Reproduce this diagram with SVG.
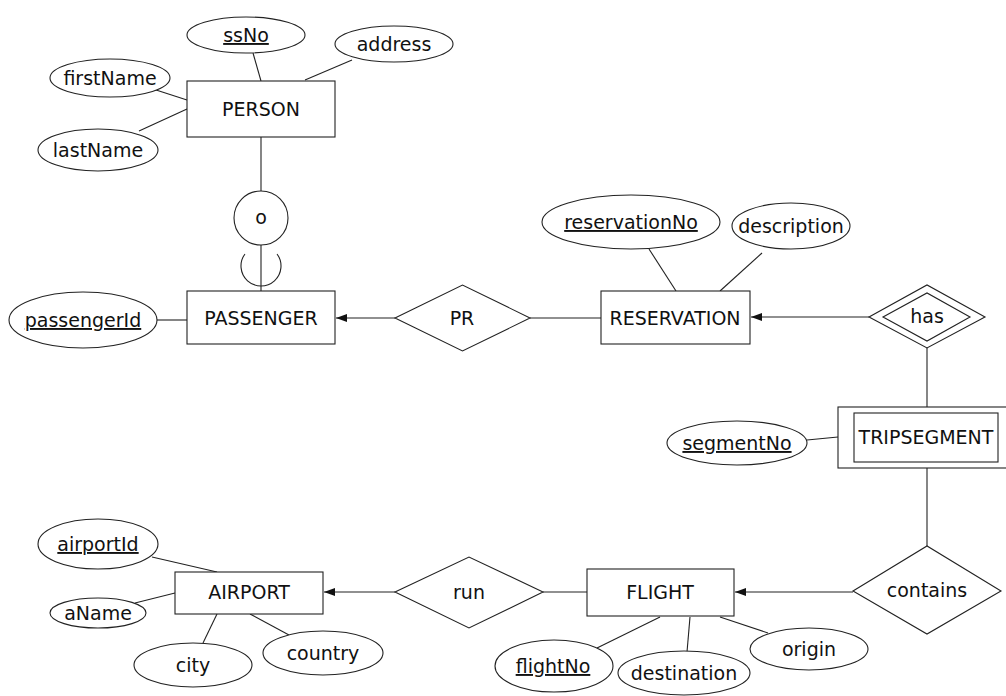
<svg xmlns="http://www.w3.org/2000/svg" width="1006" height="696" viewBox="0 0 1006 696">
<style>
  .shape { fill: #fff; stroke: #222; stroke-width: 1.1; }
  .ln { stroke: #222; stroke-width: 1.1; fill: none; }
  .t { font-family: "DejaVu Sans", "Liberation Sans", sans-serif; font-size: 19px; fill: #111; text-anchor: middle; }
  .key { text-decoration: underline; }
</style>
<defs>
  <marker id="arr" markerUnits="userSpaceOnUse" markerWidth="12" markerHeight="10" refX="11" refY="4" orient="auto">
    <path d="M0,0 L11,4 L0,8 z" fill="#111"/>
  </marker>
</defs>
<rect width="1006" height="696" fill="#fff"/>

<g id="connectors">
  <line class="ln" x1="253" y1="53" x2="261" y2="81"/>
  <line class="ln" x1="352" y1="60" x2="305" y2="80"/>
  <line class="ln" x1="153" y1="89" x2="187" y2="100"/>
  <line class="ln" x1="139" y1="131" x2="187" y2="109"/>
  <line class="ln" x1="261" y1="137" x2="261" y2="191"/>
  <line class="ln" x1="261" y1="245" x2="261" y2="291"/>
  <path class="ln" d="M245,254 A20,20 0 1 0 277,254"/>
  <line class="ln" x1="157" y1="320" x2="187" y2="320"/>
  <line class="ln" x1="395" y1="318" x2="336" y2="318" marker-end="url(#arr)"/>
  <line class="ln" x1="530" y1="318" x2="601" y2="318"/>
  <line class="ln" x1="649" y1="249" x2="676" y2="291"/>
  <line class="ln" x1="762" y1="253" x2="720" y2="291"/>
  <line class="ln" x1="869" y1="317" x2="751" y2="317" marker-end="url(#arr)"/>
  <line class="ln" x1="927" y1="348" x2="927" y2="407"/>
  <line class="ln" x1="807" y1="440" x2="838" y2="437"/>
  <line class="ln" x1="927" y1="468" x2="927" y2="546"/>
  <line class="ln" x1="853" y1="592" x2="735" y2="592" marker-end="url(#arr)"/>
  <line class="ln" x1="543" y1="592" x2="587" y2="592"/>
  <line class="ln" x1="395" y1="592" x2="324" y2="592" marker-end="url(#arr)"/>
  <line class="ln" x1="152" y1="557" x2="217" y2="572"/>
  <line class="ln" x1="135" y1="603" x2="175" y2="593"/>
  <line class="ln" x1="217" y1="614" x2="203" y2="643"/>
  <line class="ln" x1="250" y1="614" x2="289" y2="635"/>
  <line class="ln" x1="660" y1="617" x2="597" y2="648"/>
  <line class="ln" x1="690" y1="617" x2="687" y2="652"/>
  <line class="ln" x1="720" y1="617" x2="768" y2="633"/>
</g>

<g id="person">
  <rect class="shape" x="187" y="81" width="148" height="56"/>
  <text class="t" x="261" y="116">PERSON</text>
</g>
<g id="ssNo">
  <ellipse class="shape" cx="246" cy="35" rx="59" ry="18"/>
  <text class="t key" x="246" y="42">ssNo</text>
</g>
<g id="address">
  <ellipse class="shape" cx="394" cy="44" rx="59" ry="18"/>
  <text class="t" x="394" y="51">address</text>
</g>
<g id="firstName">
  <ellipse class="shape" cx="110" cy="78" rx="60" ry="19"/>
  <text class="t" x="110" y="85">firstName</text>
</g>
<g id="lastName">
  <ellipse class="shape" cx="98" cy="150" rx="60" ry="21"/>
  <text class="t" x="98" y="157">lastName</text>
</g>
<g id="disjoint">
  <circle class="shape" cx="261" cy="218" r="27"/>
  <text class="t" x="261" y="224">o</text>
</g>
<g id="passenger">
  <rect class="shape" x="187" y="291" width="148" height="53"/>
  <text class="t" x="261" y="325">PASSENGER</text>
</g>
<g id="passengerId">
  <ellipse class="shape" cx="83" cy="320" rx="74" ry="28"/>
  <text class="t key" x="83" y="327">passengerId</text>
</g>
<g id="PR">
  <polygon class="shape" points="395,318 462.5,285 530,318 462.5,351"/>
  <text class="t" x="462" y="325">PR</text>
</g>
<g id="reservation">
  <rect class="shape" x="601" y="291" width="149" height="53"/>
  <text class="t" x="675" y="325">RESERVATION</text>
</g>
<g id="reservationNo">
  <ellipse class="shape" cx="631" cy="222" rx="89" ry="27"/>
  <text class="t key" x="631" y="229">reservationNo</text>
</g>
<g id="description">
  <ellipse class="shape" cx="791" cy="226" rx="59" ry="23"/>
  <text class="t" x="791" y="233">description</text>
</g>
<g id="has">
  <polygon class="shape" points="869,317 927,285 985,317 927,348"/>
  <polygon class="shape" points="883,317 927,293 970,317 927,341"/>
  <text class="t" x="927" y="323">has</text>
</g>
<g id="tripsegment">
  <rect class="shape" x="838" y="407" width="172" height="61"/>
  <rect class="shape" x="854" y="413" width="144" height="49"/>
  <text class="t" x="926" y="444">TRIPSEGMENT</text>
</g>
<g id="segmentNo">
  <ellipse class="shape" cx="737" cy="443" rx="70" ry="22"/>
  <text class="t key" x="737" y="450">segmentNo</text>
</g>
<g id="contains">
  <polygon class="shape" points="853,591 927,546 1001,591 927,634"/>
  <text class="t" x="927" y="597">contains</text>
</g>
<g id="flight">
  <rect class="shape" x="587" y="569" width="147" height="47"/>
  <text class="t" x="660" y="599">FLIGHT</text>
</g>
<g id="flightNo">
  <ellipse class="shape" cx="554" cy="666" rx="59" ry="26"/>
  <text class="t key" x="553" y="673">flightNo</text>
</g>
<g id="destination">
  <ellipse class="shape" cx="684" cy="673" rx="66" ry="22"/>
  <text class="t" x="684" y="680">destination</text>
</g>
<g id="origin">
  <ellipse class="shape" cx="809" cy="649" rx="59" ry="21"/>
  <text class="t" x="809" y="656">origin</text>
</g>
<g id="run">
  <polygon class="shape" points="395,592 469,557 543,592 469,628"/>
  <text class="t" x="469" y="599">run</text>
</g>
<g id="airport">
  <rect class="shape" x="175" y="572" width="148" height="42"/>
  <text class="t" x="249" y="599">AIRPORT</text>
</g>
<g id="airportId">
  <ellipse class="shape" cx="98" cy="544" rx="60" ry="25"/>
  <text class="t key" x="98" y="551">airportId</text>
</g>
<g id="aName">
  <ellipse class="shape" cx="98" cy="613" rx="48" ry="15"/>
  <text class="t" x="98" y="620">aName</text>
</g>
<g id="city">
  <ellipse class="shape" cx="193" cy="665" rx="59" ry="22"/>
  <text class="t" x="193" y="672">city</text>
</g>
<g id="country">
  <ellipse class="shape" cx="323" cy="653" rx="60" ry="22"/>
  <text class="t" x="323" y="660">country</text>
</g>
</svg>
